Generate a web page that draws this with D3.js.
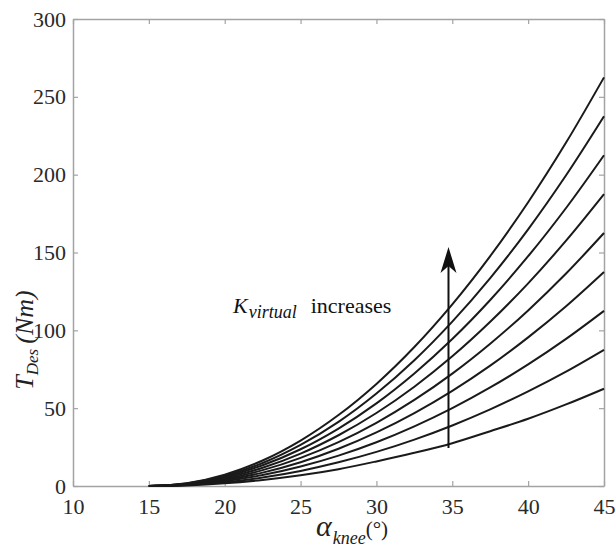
<!DOCTYPE html>
<html>
<head>
<meta charset="utf-8">
<script src="https://cdn.jsdelivr.net/npm/d3@7"></script>
<style>
  body { margin: 0; background: #fff; }
  svg { display: block; }
  .serif { font-family: "Liberation Serif", "Times New Roman", serif; }
  .tick text { font-family: "Liberation Serif", "Times New Roman", serif; font-size: 22px; fill: #2a2a2a; }
</style>
</head>
<body>
<svg width="616" height="547"></svg>
<script>
// knee angle samples (deg)
var angles = [15, 17.5, 20, 22.5, 25, 27.5, 30, 32.5, 35, 37.5, 40, 42.5, 45];

// desired torque (Nm), one row per K_virtual, lowest first
var torque1 = [0, 0.4, 1.7, 3.9, 6.9, 10.8, 15.8, 21.3, 27.5, 35.2, 43.2, 52.4, 62.5];
var torque2 = [0, 0.6, 2.4, 5.5, 9.7, 15.2, 21.9, 29.8, 38.9, 49.2, 60.8, 73.5, 87.5];
var torque3 = [0, 0.8, 3.1, 7.0, 12.5, 19.5, 28.1, 38.3, 50.0, 63.3, 78.1, 94.5, 112.5];
var torque4 = [0, 1.0, 3.8, 8.6, 15.3, 23.9, 34.4, 46.8, 61.1, 77.3, 95.5, 115.5, 137.5];
var torque5 = [0, 1.1, 4.5, 10.2, 18.1, 28.2, 40.6, 55.3, 72.2, 91.4, 112.8, 136.5, 162.5];
var torque6 = [0, 1.3, 5.2, 11.7, 20.8, 32.6, 46.9, 63.8, 83.3, 105.5, 130.2, 157.6, 187.5];
var torque7 = [0, 1.5, 5.9, 13.3, 23.6, 36.9, 53.1, 72.3, 94.4, 119.5, 147.6, 178.6, 212.5];
var torque8 = [0, 1.6, 6.6, 14.8, 26.4, 41.2, 59.4, 80.8, 105.6, 133.6, 164.9, 199.6, 237.5];
var torque9 = [0, 1.8, 7.3, 16.4, 29.2, 45.6, 65.6, 89.3, 116.7, 147.7, 182.3, 220.6, 262.5];

var xTicks = [10, 15, 20, 25, 30, 35, 40, 45];
var yTicks = [0, 50, 100, 150, 200, 250, 300];

// arrow annotation (angle, torque from -> to)
var arrowAngle = 34.75;
var arrowFrom = 24.4, arrowTo = 153.5;

var svg = d3.select("svg"),
    margin = {top: 19, right: 12, bottom: 61, left: 73},
    width = +svg.attr("width") - margin.left - margin.right,
    height = +svg.attr("height") - margin.top - margin.bottom;

var x = d3.scaleLinear().domain([10, 45]).range([0, width]);
var y = d3.scaleLinear().domain([0, 300]).range([height, 0]);

var g = svg.append("g").attr("transform", "translate(" + margin.left + "," + margin.top + ")");

var axisColor = "#a3a3a3";

// box with inward ticks on all four sides
var axBottom = g.append("g").attr("transform", "translate(0," + height + ")")
    .call(d3.axisBottom(x).tickValues(xTicks).tickSizeInner(-5).tickSizeOuter(0).tickPadding(12));
var axLeft = g.append("g")
    .call(d3.axisLeft(y).tickValues(yTicks).tickSizeInner(-5).tickSizeOuter(0).tickPadding(7));
var axTop = g.append("g")
    .call(d3.axisTop(x).tickValues(xTicks).tickSizeInner(-5).tickSizeOuter(0).tickFormat(""));
var axRight = g.append("g").attr("transform", "translate(" + width + ",0)")
    .call(d3.axisRight(y).tickValues(yTicks).tickSizeInner(-5).tickSizeOuter(0).tickFormat(""));

[axBottom, axLeft, axTop, axRight].forEach(function(a) {
  a.attr("font-family", null);
  a.select(".domain").attr("stroke", axisColor).attr("stroke-width", 1.5);
  a.selectAll(".tick line").attr("stroke", axisColor).attr("stroke-width", 1.2);
});

var series = [torque1, torque2, torque3, torque4, torque5, torque6, torque7, torque8, torque9];

var line = d3.line()
    .x(function(d, i) { return x(angles[i]); })
    .y(function(d) { return y(d); })
    .curve(d3.curveCatmullRom);

g.append("g")
    .attr("class", "curves")
  .selectAll("path")
  .data(series)
  .enter().append("path")
    .attr("d", line)
    .attr("fill", "none")
    .attr("stroke", "#1a1a1a")
    .attr("stroke-width", 2);

// arrow
var ax = x(arrowAngle), ay0 = y(arrowFrom), ay1 = y(arrowTo);
g.append("line")
    .attr("x1", ax).attr("x2", ax)
    .attr("y1", ay0).attr("y2", ay1 + 12)
    .attr("stroke", "#111").attr("stroke-width", 2);
g.append("path")
    .attr("d", "M" + ax + "," + ay1 +
               " L" + (ax + 8) + "," + (ay1 + 26) +
               " L" + ax + "," + (ay1 + 19) +
               " L" + (ax - 8) + "," + (ay1 + 26) + " Z")
    .attr("fill", "#111");

// annotation text
var ann = svg.append("text")
    .attr("class", "serif")
    .attr("x", 233)
    .attr("y", 313)
    .style("font-size", "22px")
    .attr("fill", "#111");
ann.append("tspan").style("font-style", "italic").text("K");
ann.append("tspan").style("font-style", "italic").style("font-size", "18px").attr("dy", 5).attr("dx", 1).text("virtual");
ann.append("tspan").attr("dy", -5).attr("dx", 14).text("increases");

// x axis title
var xt = svg.append("text")
    .attr("class", "serif")
    .attr("x", 316)
    .attr("y", 536)
    .attr("fill", "#222");
xt.append("tspan").style("font-style", "italic").style("font-size", "30px").text("α");
xt.append("tspan").style("font-style", "italic").style("font-size", "18px").attr("dy", 8).attr("dx", 1).text("knee");
xt.append("tspan").style("font-size", "21px").attr("dy", -8).text("(°)");

// y axis title
var yt = svg.append("text")
    .attr("class", "serif")
    .attr("transform", "translate(33,340) rotate(-90)")
    .attr("text-anchor", "middle")
    .style("font-style", "italic")
    .style("font-size", "26px")
    .attr("fill", "#222");
yt.append("tspan").text("T");
yt.append("tspan").style("font-size", "17px").attr("dy", 5).text("Des");
yt.append("tspan").attr("dy", -5).attr("dx", 5).text("(Nm)");
</script>
</body>
</html>
